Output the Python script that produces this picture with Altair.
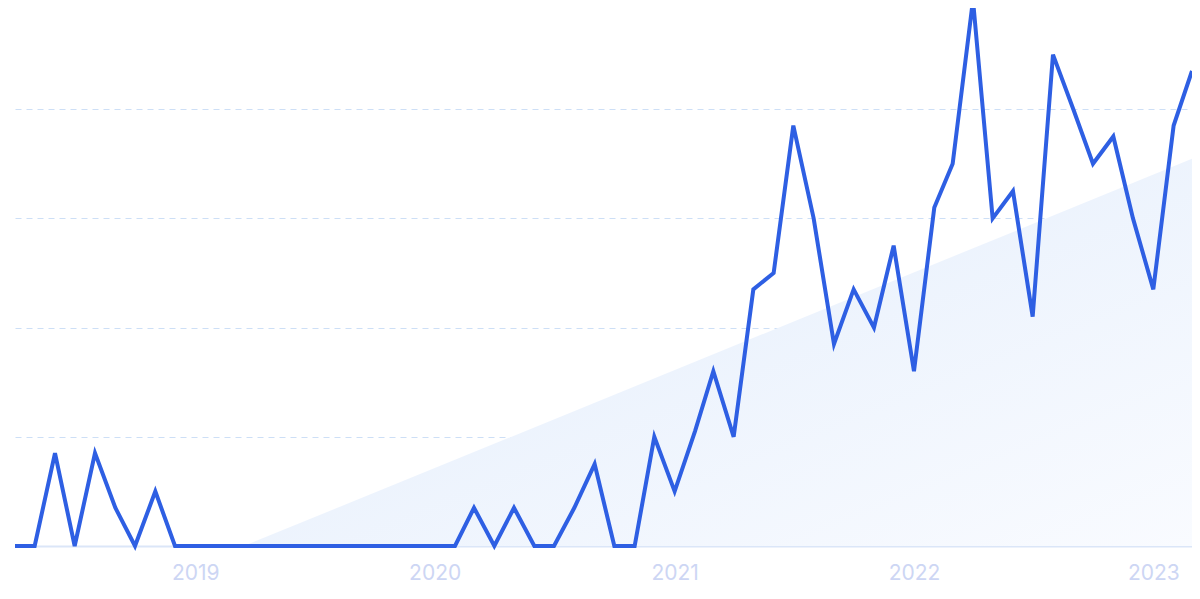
import altair as alt
import pandas as pd

# Monthly series, Apr 2018 - Mar 2023 (index 0..100)
values = [0, 0, 17, 0, 17, 7, 0, 10, 0,
          0, 0, 0, 0, 0, 0, 0, 0, 0, 0, 0, 0, 0,
          0, 7, 0, 7, 0, 0, 7, 15, 0, 0, 20, 10,
          21, 32, 20, 47, 50, 77, 60, 37, 47, 40, 55, 32,
          62, 70, 100, 60, 65, 42, 90, 80, 70, 75, 60, 47,
          77, 87]
months = pd.date_range("2018-04-01", periods=len(values), freq="MS").strftime("%Y-%m-%d").tolist()

# Trend wedge (start and end)
trend_dates = ["2019-03-16", "2023-03-01"]
trend_values = [0, 70.9]

year_ticks = ["2019-01-01", "2020-01-01", "2021-01-01", "2022-01-01", "2023-01-01"]

df = pd.DataFrame({"date": months, "value": values})
trend_df = pd.DataFrame({"date": trend_dates, "value": trend_values})

x_scale = alt.Scale(domain=["2018-04-01", "2023-03-01"], type="utc")
y_scale = alt.Scale(domain=[0, 98.53], nice=False)

x_axis = alt.Axis(
    values=[alt.DateTime(year=int(d[:4]), month=1, date=1, utc=True) for d in year_ticks],
    format="%Y", formatType="time", labelColor="#cdd6f4", labelFontSize=21,
    labelFont="Inter", labelPadding=16, ticks=False, grid=False,
    domainColor="#dbe6f8", domainWidth=2, title=None,
)
y_axis = alt.Axis(values=[20, 40, 60, 80, 100], labels=False, ticks=False, domain=False,
                  grid=True, gridColor="#cddff6", gridDash=[6, 5], gridWidth=1, title=None)

trend = alt.Chart(trend_df).mark_area(
    fill=alt.Gradient(gradient="linear", x1=0, y1=0, x2=1, y2=1,
                      stops=[alt.GradientStop(color="#e1ecfb", offset=0),
                             alt.GradientStop(color="#f9fbff", offset=1)]),
).encode(
    x=alt.X("date:T", scale=x_scale, axis=x_axis),
    y=alt.Y("value:Q", scale=y_scale, axis=y_axis),
)

line = alt.Chart(df).mark_line(color="#2e5fe3", strokeWidth=4, clip=False).encode(
    x=alt.X("date:T", scale=x_scale),
    y=alt.Y("value:Q", scale=y_scale),
)

chart = alt.layer(trend, line).properties(
    width=1177, height=538,
    background="white",
    autosize=alt.AutoSizeParams(type="none"),
    padding={"left": 7, "top": 0, "right": 0, "bottom": 45},
).configure_view(stroke=None)

chart.save("out.html", embed_options={"renderer": "svg", "actions": False})
